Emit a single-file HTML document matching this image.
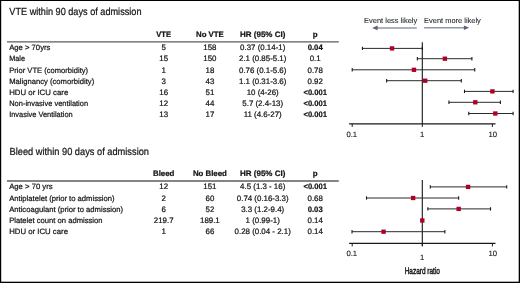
<!DOCTYPE html>
<html><head><meta charset="utf-8"><style>
html,body{margin:0;padding:0;background:#fff;}
svg{display:block;font-family:"Liberation Sans", sans-serif;will-change:transform;text-rendering:geometricPrecision;}
</style></head><body>
<svg width="520" height="283" viewBox="0 0 520 283" fill="#141414" stroke-width="0.22">
<rect width="520" height="283" fill="#fff"/>
<text x="9.30" y="15.00" font-size="10.3" textLength="132.20" lengthAdjust="spacingAndGlyphs" stroke="#141414">VTE within 90 days of admission</text>
<text x="163.70" y="36.90" font-size="7.9" font-weight="bold" text-anchor="middle" textLength="14.80" lengthAdjust="spacingAndGlyphs" stroke="#141414">VTE</text>
<text x="209.90" y="36.90" font-size="7.9" font-weight="bold" text-anchor="middle" textLength="27.80" lengthAdjust="spacingAndGlyphs" stroke="#141414">No VTE</text>
<text x="262.70" y="36.90" font-size="7.9" font-weight="bold" text-anchor="middle" textLength="45.40" lengthAdjust="spacingAndGlyphs" stroke="#141414">HR (95% CI)</text>
<text x="315.20" y="36.90" font-size="7.9" font-weight="bold" text-anchor="middle" stroke="#141414">p</text>
<line x1="7.00" y1="41.85" x2="338.80" y2="41.85" stroke="#5c5c5c" stroke-width="1.3"/>
<text x="9.20" y="50.10" font-size="7.7" textLength="41.20" lengthAdjust="spacingAndGlyphs" stroke="#141414">Age &gt; 70yrs</text>
<text x="163.70" y="50.10" font-size="7.9" text-anchor="middle" stroke="#141414">5</text>
<text x="209.90" y="50.10" font-size="7.9" text-anchor="middle" stroke="#141414">158</text>
<text x="262.70" y="50.10" font-size="7.9" text-anchor="middle" stroke="#141414">0.37 (0.14-1)</text>
<text x="315.20" y="50.10" font-size="7.9" font-weight="bold" text-anchor="middle" textLength="15.00" lengthAdjust="spacingAndGlyphs" stroke="#141414">0.04</text>
<text x="9.20" y="61.33" font-size="7.7" textLength="15.80" lengthAdjust="spacingAndGlyphs" stroke="#141414">Male</text>
<text x="163.70" y="61.33" font-size="7.9" text-anchor="middle" stroke="#141414">15</text>
<text x="209.90" y="61.33" font-size="7.9" text-anchor="middle" stroke="#141414">150</text>
<text x="262.70" y="61.33" font-size="7.9" text-anchor="middle" stroke="#141414">2.1 (0.85-5.1)</text>
<text x="315.20" y="61.33" font-size="7.9" text-anchor="middle" stroke="#141414">0.1</text>
<text x="9.20" y="72.56" font-size="7.7" textLength="78.90" lengthAdjust="spacingAndGlyphs" stroke="#141414">Prior VTE (comorbidity)</text>
<text x="163.70" y="72.56" font-size="7.9" text-anchor="middle" stroke="#141414">1</text>
<text x="209.90" y="72.56" font-size="7.9" text-anchor="middle" stroke="#141414">18</text>
<text x="262.70" y="72.56" font-size="7.9" text-anchor="middle" stroke="#141414">0.76 (0.1-5.6)</text>
<text x="315.20" y="72.56" font-size="7.9" text-anchor="middle" stroke="#141414">0.78</text>
<text x="9.20" y="83.79" font-size="7.7" textLength="85.00" lengthAdjust="spacingAndGlyphs" stroke="#141414">Malignancy (comorbidity)</text>
<text x="163.70" y="83.79" font-size="7.9" text-anchor="middle" stroke="#141414">3</text>
<text x="209.90" y="83.79" font-size="7.9" text-anchor="middle" stroke="#141414">43</text>
<text x="262.70" y="83.79" font-size="7.9" text-anchor="middle" stroke="#141414">1.1 (0.31-3.6)</text>
<text x="315.20" y="83.79" font-size="7.9" text-anchor="middle" stroke="#141414">0.92</text>
<text x="9.20" y="95.02" font-size="7.7" textLength="59.10" lengthAdjust="spacingAndGlyphs" stroke="#141414">HDU or ICU care</text>
<text x="163.70" y="95.02" font-size="7.9" text-anchor="middle" stroke="#141414">16</text>
<text x="209.90" y="95.02" font-size="7.9" text-anchor="middle" stroke="#141414">51</text>
<text x="262.70" y="95.02" font-size="7.9" text-anchor="middle" stroke="#141414">10 (4-26)</text>
<text x="315.20" y="95.02" font-size="7.9" font-weight="bold" text-anchor="middle" textLength="23.50" lengthAdjust="spacingAndGlyphs" stroke="#141414">&lt;0.001</text>
<text x="9.20" y="106.25" font-size="7.7" textLength="78.90" lengthAdjust="spacingAndGlyphs" stroke="#141414">Non-invasive ventilation</text>
<text x="163.70" y="106.25" font-size="7.9" text-anchor="middle" stroke="#141414">12</text>
<text x="209.90" y="106.25" font-size="7.9" text-anchor="middle" stroke="#141414">44</text>
<text x="262.70" y="106.25" font-size="7.9" text-anchor="middle" stroke="#141414">5.7 (2.4-13)</text>
<text x="315.20" y="106.25" font-size="7.9" font-weight="bold" text-anchor="middle" textLength="23.50" lengthAdjust="spacingAndGlyphs" stroke="#141414">&lt;0.001</text>
<text x="9.20" y="117.48" font-size="7.7" textLength="63.50" lengthAdjust="spacingAndGlyphs" stroke="#141414">Invasive Ventilation</text>
<text x="163.70" y="117.48" font-size="7.9" text-anchor="middle" stroke="#141414">13</text>
<text x="209.90" y="117.48" font-size="7.9" text-anchor="middle" stroke="#141414">17</text>
<text x="262.70" y="117.48" font-size="7.9" text-anchor="middle" stroke="#141414">11 (4.6-27)</text>
<text x="315.20" y="117.48" font-size="7.9" font-weight="bold" text-anchor="middle" textLength="23.50" lengthAdjust="spacingAndGlyphs" stroke="#141414">&lt;0.001</text>
<line x1="422.30" y1="42.20" x2="422.30" y2="124.00" stroke="#151515" stroke-width="1.1"/>
<line x1="362.44" y1="48.40" x2="422.30" y2="48.40" stroke="#2a2a2a" stroke-width="1.0"/>
<line x1="362.44" y1="46.70" x2="362.44" y2="50.10" stroke="#1a1a1a" stroke-width="1.1"/>
<line x1="422.30" y1="46.70" x2="422.30" y2="50.10" stroke="#1a1a1a" stroke-width="1.1"/>
<rect x="389.83" y="46.25" width="4.40" height="4.30" fill="#b00026"/>
<line x1="417.35" y1="58.70" x2="471.90" y2="58.70" stroke="#2a2a2a" stroke-width="1.0"/>
<line x1="417.35" y1="57.00" x2="417.35" y2="60.40" stroke="#1a1a1a" stroke-width="1.1"/>
<line x1="471.90" y1="57.00" x2="471.90" y2="60.40" stroke="#1a1a1a" stroke-width="1.1"/>
<rect x="442.69" y="56.55" width="4.40" height="4.30" fill="#b00026"/>
<line x1="352.20" y1="69.80" x2="474.75" y2="69.80" stroke="#2a2a2a" stroke-width="1.0"/>
<line x1="352.20" y1="68.10" x2="352.20" y2="71.50" stroke="#1a1a1a" stroke-width="1.1"/>
<line x1="474.75" y1="68.10" x2="474.75" y2="71.50" stroke="#1a1a1a" stroke-width="1.1"/>
<rect x="411.75" y="67.65" width="4.40" height="4.30" fill="#b00026"/>
<line x1="386.64" y1="80.70" x2="461.30" y2="80.70" stroke="#2a2a2a" stroke-width="1.0"/>
<line x1="386.64" y1="79.00" x2="386.64" y2="82.40" stroke="#1a1a1a" stroke-width="1.1"/>
<line x1="461.30" y1="79.00" x2="461.30" y2="82.40" stroke="#1a1a1a" stroke-width="1.1"/>
<rect x="423.00" y="78.55" width="4.40" height="4.30" fill="#b00026"/>
<line x1="464.50" y1="91.40" x2="513.10" y2="91.40" stroke="#2a2a2a" stroke-width="1.0"/>
<line x1="464.50" y1="89.70" x2="464.50" y2="93.10" stroke="#1a1a1a" stroke-width="1.1"/>
<line x1="513.10" y1="89.70" x2="513.10" y2="93.10" stroke="#1a1a1a" stroke-width="1.1"/>
<rect x="490.20" y="89.25" width="4.40" height="4.30" fill="#b00026"/>
<line x1="448.95" y1="102.30" x2="500.39" y2="102.30" stroke="#2a2a2a" stroke-width="1.0"/>
<line x1="448.95" y1="100.60" x2="448.95" y2="104.00" stroke="#1a1a1a" stroke-width="1.1"/>
<line x1="500.39" y1="100.60" x2="500.39" y2="104.00" stroke="#1a1a1a" stroke-width="1.1"/>
<rect x="473.09" y="100.15" width="4.40" height="4.30" fill="#b00026"/>
<line x1="468.76" y1="113.50" x2="513.10" y2="113.50" stroke="#2a2a2a" stroke-width="1.0"/>
<line x1="468.76" y1="111.80" x2="468.76" y2="115.20" stroke="#1a1a1a" stroke-width="1.1"/>
<line x1="513.10" y1="111.80" x2="513.10" y2="115.20" stroke="#1a1a1a" stroke-width="1.1"/>
<rect x="493.10" y="111.35" width="4.40" height="4.30" fill="#b00026"/>
<line x1="349.10" y1="123.95" x2="495.50" y2="123.95" stroke="#1a1a1a" stroke-width="1.3"/>
<line x1="352.20" y1="123.95" x2="352.20" y2="126.95" stroke="#1a1a1a" stroke-width="1.0"/>
<line x1="422.30" y1="123.95" x2="422.30" y2="126.95" stroke="#1a1a1a" stroke-width="1.0"/>
<line x1="492.40" y1="123.95" x2="492.40" y2="126.95" stroke="#1a1a1a" stroke-width="1.0"/>
<text x="351.80" y="136.80" font-size="7.7" text-anchor="middle" stroke="#141414" stroke-width="0.1">0.1</text>
<text x="422.10" y="136.80" font-size="7.7" text-anchor="middle" stroke="#141414" stroke-width="0.1">1</text>
<text x="492.70" y="136.80" font-size="7.7" text-anchor="middle" stroke="#141414" stroke-width="0.1">10</text>
<text x="364.10" y="22.70" font-size="7.4" textLength="53.10" lengthAdjust="spacingAndGlyphs" fill="#262626" stroke="#262626" stroke-width="0.08">Event less likely</text>
<text x="424.10" y="22.70" font-size="7.4" textLength="56.70" lengthAdjust="spacingAndGlyphs" fill="#262626" stroke="#262626" stroke-width="0.08">Event more likely</text>
<line x1="376.00" y1="27.90" x2="416.80" y2="27.90" stroke="#9097ab" stroke-width="1.5"/>
<polygon points="372.2,27.9 377.6,25.5 377.6,30.3" fill="#5a6176"/>
<line x1="424.10" y1="27.80" x2="465.00" y2="27.80" stroke="#9097ab" stroke-width="1.5"/>
<polygon points="469.1,27.8 463.9,25.5 463.9,30.1" fill="#5a6176"/>
<text x="9.50" y="154.50" font-size="10.3" textLength="139.50" lengthAdjust="spacingAndGlyphs" stroke="#141414">Bleed within 90 days of admission</text>
<text x="163.70" y="175.70" font-size="7.9" font-weight="bold" text-anchor="middle" textLength="21.40" lengthAdjust="spacingAndGlyphs" stroke="#141414">Bleed</text>
<text x="209.90" y="175.70" font-size="7.9" font-weight="bold" text-anchor="middle" textLength="34.00" lengthAdjust="spacingAndGlyphs" stroke="#141414">No Bleed</text>
<text x="262.70" y="175.70" font-size="7.9" font-weight="bold" text-anchor="middle" textLength="45.40" lengthAdjust="spacingAndGlyphs" stroke="#141414">HR (95% CI)</text>
<text x="315.20" y="175.70" font-size="7.9" font-weight="bold" text-anchor="middle" stroke="#141414">p</text>
<line x1="7.00" y1="181.00" x2="338.80" y2="181.00" stroke="#5c5c5c" stroke-width="1.3"/>
<text x="9.20" y="189.30" font-size="7.7" textLength="43.40" lengthAdjust="spacingAndGlyphs" stroke="#141414">Age &gt; 70 yrs</text>
<text x="163.70" y="189.30" font-size="7.9" text-anchor="middle" stroke="#141414">12</text>
<text x="209.90" y="189.30" font-size="7.9" text-anchor="middle" stroke="#141414">151</text>
<text x="262.70" y="189.30" font-size="7.9" text-anchor="middle" stroke="#141414">4.5 (1.3 - 16)</text>
<text x="315.20" y="189.30" font-size="7.9" font-weight="bold" text-anchor="middle" textLength="23.50" lengthAdjust="spacingAndGlyphs" stroke="#141414">&lt;0.001</text>
<text x="9.20" y="200.55" font-size="7.7" textLength="105.40" lengthAdjust="spacingAndGlyphs" stroke="#141414">Antiplatelet (prior to admission)</text>
<text x="163.70" y="200.55" font-size="7.9" text-anchor="middle" stroke="#141414">2</text>
<text x="209.90" y="200.55" font-size="7.9" text-anchor="middle" stroke="#141414">60</text>
<text x="262.70" y="200.55" font-size="7.9" text-anchor="middle" stroke="#141414">0.74 (0.16-3.3)</text>
<text x="315.20" y="200.55" font-size="7.9" text-anchor="middle" stroke="#141414">0.68</text>
<text x="9.20" y="211.80" font-size="7.7" textLength="113.90" lengthAdjust="spacingAndGlyphs" stroke="#141414">Anticoagulant (prior to admission)</text>
<text x="163.70" y="211.80" font-size="7.9" text-anchor="middle" stroke="#141414">6</text>
<text x="209.90" y="211.80" font-size="7.9" text-anchor="middle" stroke="#141414">52</text>
<text x="262.70" y="211.80" font-size="7.9" text-anchor="middle" stroke="#141414">3.3 (1.2-9.4)</text>
<text x="315.20" y="211.80" font-size="7.9" font-weight="bold" text-anchor="middle" textLength="15.00" lengthAdjust="spacingAndGlyphs" stroke="#141414">0.03</text>
<text x="9.20" y="223.05" font-size="7.7" textLength="93.30" lengthAdjust="spacingAndGlyphs" stroke="#141414">Platelet count on admission</text>
<text x="163.70" y="223.05" font-size="7.9" text-anchor="middle" stroke="#141414">219.7</text>
<text x="209.90" y="223.05" font-size="7.9" text-anchor="middle" stroke="#141414">189.1</text>
<text x="262.70" y="223.05" font-size="7.9" text-anchor="middle" stroke="#141414">1 (0.99-1)</text>
<text x="315.20" y="223.05" font-size="7.9" text-anchor="middle" stroke="#141414">0.14</text>
<text x="9.20" y="234.30" font-size="7.7" textLength="58.80" lengthAdjust="spacingAndGlyphs" stroke="#141414">HDU or ICU care</text>
<text x="163.70" y="234.30" font-size="7.9" text-anchor="middle" stroke="#141414">1</text>
<text x="209.90" y="234.30" font-size="7.9" text-anchor="middle" stroke="#141414">66</text>
<text x="262.70" y="234.30" font-size="7.9" text-anchor="middle" stroke="#141414">0.28 (0.04 - 2.1)</text>
<text x="315.20" y="234.30" font-size="7.9" text-anchor="middle" stroke="#141414">0.14</text>
<line x1="422.30" y1="180.10" x2="422.30" y2="246.00" stroke="#151515" stroke-width="1.1"/>
<line x1="430.29" y1="186.90" x2="506.71" y2="186.90" stroke="#2a2a2a" stroke-width="1.0"/>
<line x1="430.29" y1="185.20" x2="430.29" y2="188.60" stroke="#1a1a1a" stroke-width="1.1"/>
<line x1="506.71" y1="185.20" x2="506.71" y2="188.60" stroke="#1a1a1a" stroke-width="1.1"/>
<rect x="465.89" y="184.75" width="4.40" height="4.30" fill="#b00026"/>
<line x1="366.51" y1="198.00" x2="458.65" y2="198.00" stroke="#2a2a2a" stroke-width="1.0"/>
<line x1="366.51" y1="196.30" x2="366.51" y2="199.70" stroke="#1a1a1a" stroke-width="1.1"/>
<line x1="458.65" y1="196.30" x2="458.65" y2="199.70" stroke="#1a1a1a" stroke-width="1.1"/>
<rect x="410.93" y="195.85" width="4.40" height="4.30" fill="#b00026"/>
<line x1="427.85" y1="208.90" x2="490.52" y2="208.90" stroke="#2a2a2a" stroke-width="1.0"/>
<line x1="427.85" y1="207.20" x2="427.85" y2="210.60" stroke="#1a1a1a" stroke-width="1.1"/>
<line x1="490.52" y1="207.20" x2="490.52" y2="210.60" stroke="#1a1a1a" stroke-width="1.1"/>
<rect x="456.45" y="206.75" width="4.40" height="4.30" fill="#b00026"/>
<line x1="421.99" y1="220.50" x2="422.30" y2="220.50" stroke="#2a2a2a" stroke-width="1.0"/>
<line x1="421.99" y1="218.80" x2="421.99" y2="222.20" stroke="#1a1a1a" stroke-width="1.1"/>
<line x1="422.30" y1="218.80" x2="422.30" y2="222.20" stroke="#1a1a1a" stroke-width="1.1"/>
<rect x="420.10" y="218.35" width="4.40" height="4.30" fill="#b00026"/>
<line x1="352.00" y1="231.70" x2="444.89" y2="231.70" stroke="#2a2a2a" stroke-width="1.0"/>
<line x1="352.00" y1="230.00" x2="352.00" y2="233.40" stroke="#1a1a1a" stroke-width="1.1"/>
<line x1="444.89" y1="230.00" x2="444.89" y2="233.40" stroke="#1a1a1a" stroke-width="1.1"/>
<rect x="381.35" y="229.55" width="4.40" height="4.30" fill="#b00026"/>
<line x1="349.10" y1="243.40" x2="495.50" y2="243.40" stroke="#1a1a1a" stroke-width="1.3"/>
<line x1="352.20" y1="243.40" x2="352.20" y2="246.40" stroke="#1a1a1a" stroke-width="1.0"/>
<line x1="422.30" y1="243.40" x2="422.30" y2="246.40" stroke="#1a1a1a" stroke-width="1.0"/>
<line x1="492.40" y1="243.40" x2="492.40" y2="246.40" stroke="#1a1a1a" stroke-width="1.0"/>
<text x="351.80" y="256.40" font-size="7.7" text-anchor="middle" stroke="#141414" stroke-width="0.1">0.1</text>
<text x="422.10" y="260.40" font-size="7.7" text-anchor="middle" stroke="#141414" stroke-width="0.1">1</text>
<text x="492.70" y="256.40" font-size="7.7" text-anchor="middle" stroke="#141414" stroke-width="0.1">10</text>
<text x="422.30" y="273.60" font-size="9.4" text-anchor="middle" textLength="35.30" lengthAdjust="spacingAndGlyphs" stroke="#141414" stroke-width="0.45">Hazard ratio</text>
<rect x="0.00" y="0.00" width="520.00" height="1.00" fill="#000"/>
<rect x="0.00" y="0.00" width="1.20" height="283.00" fill="#000"/>
<rect x="518.70" y="0.00" width="1.30" height="283.00" fill="#000"/>
<rect x="0.00" y="281.70" width="520.00" height="1.30" fill="#000"/>
</svg>
</body></html>
